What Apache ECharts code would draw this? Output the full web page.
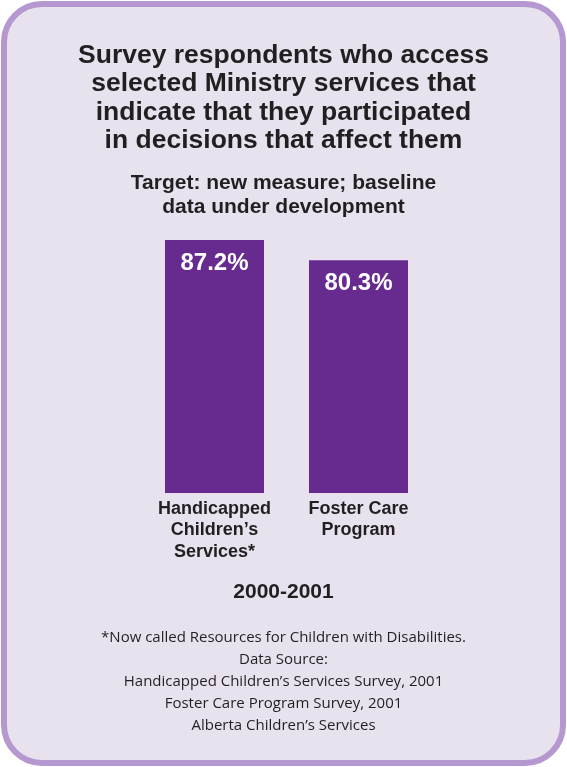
<!DOCTYPE html>
<html><head><meta charset="utf-8">
<script src="https://cdn.jsdelivr.net/npm/echarts@6/dist/echarts.min.js"></script>
<style>html,body{margin:0;padding:0;background:#fff}#c{width:567px;height:767px}</style>
</head><body><div id="c"></div>
<script>
const categories = ["Handicapped\nChildren’s\nServices*", "Foster Care\nProgram"];
const values = [87.2, 80.3];
const valueLabels = ["87.2%", "80.3%"];
const titleText = "Survey respondents who access\nselected Ministry services that\nindicate that they participated\nin decisions that affect them";
const subtitleText = "Target: new measure; baseline\ndata under development";
const periodText = "2000-2001";
const footText = "*Now called Resources for Children with Disabilities.\nData Source:\nHandicapped Children’s Services Survey, 2001\nFoster Care Program Survey, 2001\nAlberta Children’s Services";

const chart = echarts.init(document.getElementById('c'), null, {renderer:'canvas'});
chart.setOption({
  backgroundColor: '#ffffff',
  graphic: [{
    type: 'rect', z: -10,
    shape: {x: 4, y: 4, width: 559, height: 759, r: 38},
    style: {fill: '#e8e2ef', stroke: '#b598cf', lineWidth: 6}
  }, {
    type: 'text', left: 'center', top: 582,
    style: {text: periodText, font: 'bold 21px "Liberation Sans", Arial', fill: '#231f20'}
  }, {
    type: 'text', left: 'center', top: 627,
    style: {text: footText, font: '15px "Open Sans", "Liberation Sans", sans-serif', fill: '#231f20', textAlign: 'center', lineHeight: 22}
  }],
  title: [{
    text: titleText, left: 'center', top: 41, padding: 0,
    textStyle: {fontFamily: '"Liberation Sans", Arial', fontWeight: 'bold', fontSize: 26.5, color: '#231f20', lineHeight: 28.5}
  }, {
    text: subtitleText, left: 'center', top: 171, padding: 0,
    textStyle: {fontFamily: '"Liberation Sans", Arial', fontWeight: 'bold', fontSize: 21, color: '#231f20', lineHeight: 24}
  }],
  grid: {left: 142.5, width: 288, top: 203, height: 290, containLabel: false},
  xAxis: {
    type: 'category', data: categories,
    axisLine: {show: false}, axisTick: {show: false},
    axisLabel: {fontFamily: '"Liberation Sans", Arial', fontWeight: 'bold', fontSize: 18, color: '#231f20', lineHeight: 21.5, margin: 5, interval: 0}
  },
  yAxis: {type: 'value', min: 0, max: 100, show: false, splitLine: {show: false}},
  series: [{
    type: 'bar', data: values, barWidth: 99,
    itemStyle: {color: '#672b90'},
    label: {show: true, position: 'insideTop', distance: 11,
      formatter: p => valueLabels[p.dataIndex],
      fontFamily: '"Liberation Sans", Arial', fontWeight: 'bold', fontSize: 24, color: '#ffffff'}
  }]
});
</script></body></html>
